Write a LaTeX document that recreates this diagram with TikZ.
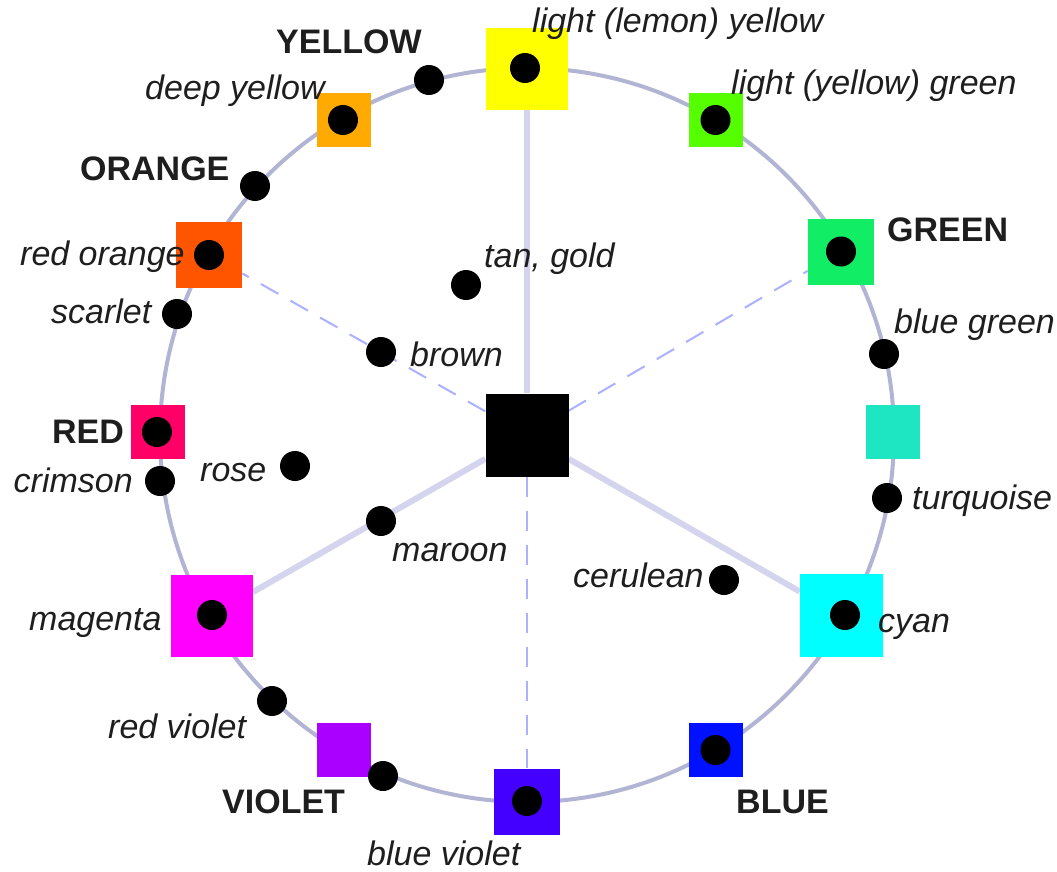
\documentclass[tikz,border=0pt]{standalone}
\usepackage{fontspec}
\setmainfont{Liberation Sans}
\usetikzlibrary{backgrounds}
\definecolor{ringc}{HTML}{B2B4D4}
\definecolor{spokec}{HTML}{D4D4EE}
\definecolor{dashc}{HTML}{ABB0FF}
\definecolor{txt}{HTML}{1E1E1E}
\definecolor{cyellow}{HTML}{FFFF00}
\definecolor{clyg}{HTML}{55FF00}
\definecolor{cgreen}{HTML}{11EE66}
\definecolor{cturq}{HTML}{1EE6C2}
\definecolor{ccyan}{HTML}{00FFFF}
\definecolor{cblue}{HTML}{0011FF}
\definecolor{cbviolet}{HTML}{4400FF}
\definecolor{cviolet}{HTML}{AA00FF}
\definecolor{cmagenta}{HTML}{FF00FF}
\definecolor{cred}{HTML}{FF0066}
\definecolor{crorange}{HTML}{FF5500}
\definecolor{cdyellow}{HTML}{FFAA00}
\begin{document}
\begin{tikzpicture}[x=1pt,y=-1pt,
  sq/.style={rectangle, draw=none, inner sep=0pt, minimum size=#1},
  dot/.style={circle, fill=black, draw=none, inner sep=0pt, minimum size=30pt},
  lab/.style={anchor=base west, inner sep=0pt, font=\fontsize{34}{40}\selectfont\itshape, text=txt},
  blab/.style={anchor=base west, inner sep=0pt, font=\fontsize{34}{40}\selectfont\bfseries, text=txt},
  ring/.style={draw=ringc, line width=4pt},
  spoke/.style={draw=spokec, line width=6pt},
  dspoke/.style={draw=dashc, line width=2pt, dash pattern=on 20pt off 14pt}]
\useasboundingbox (0,0) rectangle (1057,872);
\coordinate (o) at (527,435);
% centre and colour squares
\node[sq=83pt, fill=black] (c) at (527,435) {};
\node[sq=82pt, fill=cyellow] (yellow) at (527,69) {};
\node[sq=54pt, fill=clyg] (lyg) at (715.5,120) {};
\node[sq=66pt, fill=cgreen] (green) at (841,251.5) {};
\node[sq=54pt, fill=cturq] (turq) at (893,432) {};
\node[sq=83pt, fill=ccyan] (cyan) at (841.5,615.5) {};
\node[sq=54pt, fill=cblue] (blue) at (715.5,750) {};
\node[sq=66pt, fill=cbviolet] (bviolet) at (527,801.5) {};
\node[sq=54pt, fill=cviolet] (violet) at (343.5,750) {};
\node[sq=82pt, fill=cmagenta] (magenta) at (212,615.5) {};
\node[sq=54pt, fill=cred] (red) at (157.5,432) {};
\node[sq=66pt, fill=crorange] (rorange) at (209,254.5) {};
\node[sq=54pt, fill=cdyellow] (dyellow) at (343.5,120) {};
% ring and spokes
\begin{scope}[on background layer]
\fill[white] (0,0) rectangle (1057,872);
\draw[ring] (o) circle[radius=367];
\draw[spoke] (c) -- (yellow);
\draw[spoke] (c) -- (cyan);
\draw[spoke] (c) -- (magenta);
\draw[dspoke] (c) -- (rorange);
\draw[dspoke] (c) -- (green);
\draw[dspoke] (c) -- (bviolet);
\end{scope}
% dots
\node[dot] (d-yellow) at (525,68) {};
\node[dot] (d-lyg) at (715.5,120) {};
\node[dot] (d-green) at (841,251.5) {};
\node[dot] (d-cyan) at (845,615) {};
\node[dot] (d-blue) at (715.5,750) {};
\node[dot] (d-bviolet) at (527,801) {};
\node[dot] (d-magenta) at (212,615) {};
\node[dot] (d-red) at (157,432) {};
\node[dot] (d-rorange) at (209,255) {};
\node[dot] (d-dyellow) at (343,120) {};
\node[dot] (d-Y) at (429,80) {};
\node[dot] (d-O) at (255,186) {};
\node[dot] (d-scarlet) at (177,314) {};
\node[dot] (d-crimson) at (160,481) {};
\node[dot] (d-rviolet) at (272,701) {};
\node[dot] (d-V) at (383,776) {};
\node[dot] (d-bgreen) at (884,354) {};
\node[dot] (d-turq) at (887,498) {};
\node[dot] (d-tan) at (466,285) {};
\node[dot] (d-brown) at (381,352) {};
\node[dot] (d-rose) at (295,466) {};
\node[dot] (d-maroon) at (381,521) {};
\node[dot] (d-cerulean) at (724,580) {};
% labels
\node[lab] (t-lly) at (532,33) {light (lemon) yellow};
\node[lab] (t-lyg) at (731,95) {light (yellow) green};
\node[blab] (t-G) at (887,241) {GREEN};
\node[lab] (t-bgreen) at (894,333) {blue green};
\node[lab] (t-turq) at (912,509) {turquoise};
\node[lab] (t-cyan) at (878,632) {cyan};
\node[blab] (t-B) at (736,813) {BLUE};
\node[lab] (t-bviolet) at (367,865) {blue violet};
\node[blab] (t-V) at (222,813) {VIOLET};
\node[lab] (t-rviolet) at (108,738) {red violet};
\node[lab] (t-magenta) at (29,630) {magenta};
\node[lab] (t-crimson) at (13.5,492) {crimson};
\node[blab] (t-R) at (52,443) {RED};
\node[lab] (t-rose) at (200,481) {rose};
\node[lab] (t-maroon) at (392,561) {maroon};
\node[lab] (t-brown) at (410,366) {brown};
\node[lab] (t-scarlet) at (51,323) {scarlet};
\node[lab] (t-rorange) at (20,265) {red orange};
\node[blab] (t-O) at (80,180) {ORANGE};
\node[lab] (t-dyellow) at (145,100) {deep yellow};
\node[blab] (t-Y) at (276,54) {YELLOW};
\node[lab] (t-tan) at (484,267) {tan, gold};
\node[lab] (t-cerulean) at (573,587) {cerulean};
\end{tikzpicture}
\end{document}
